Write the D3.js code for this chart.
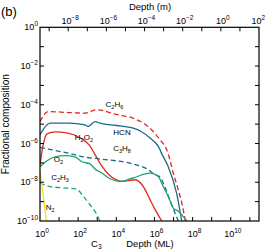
<!DOCTYPE html>
<html>
<head>
<meta charset="utf-8">
<script src="https://cdn.jsdelivr.net/npm/d3@7"></script>
<style>
  body { margin: 0; background: #fff; }
  svg { display: block; font-family: "Liberation Sans", Arial, sans-serif; }
</style>
</head>
<body>
<svg id="chart" width="266" height="250"></svg>
<script>
// values as [log10 depth (ML), log10 fractional composition]
const c2h6 = [[0,-4.87],[0.43,-4.35],[1.5,-4.4],[2.36,-4.43],[2.97,-4.26],[4.0,-4.5],[4.87,-4.69],[5.77,-5.21],[6.29,-5.81],[6.64,-6.32],[6.81,-6.84],[6.95,-7.4],[7.25,-8.39],[7.51,-9.42],[7.62,-10]];
const hcn  = [[0,-5.55],[0.52,-4.95],[1.5,-4.95],[2.36,-5.04],[2.53,-5.12],[2.88,-4.87],[3.14,-4.95],[4.0,-5.07],[4.89,-5.21],[5.3,-5.38],[5.77,-5.72],[6.2,-6.15],[6.42,-6.6],[6.72,-7.19],[7.16,-8.56],[7.43,-10]];
const h2o2 = [[0,-7.1],[0.16,-6.1],[0.37,-5.5],[0.8,-5.4],[1.4,-5.45],[2.1,-5.7],[2.6,-6.1],[2.9,-6.6],[3.2,-7.1],[3.6,-7.6],[3.95,-7.85],[4.3,-7.95],[5.0,-7.87],[5.4,-8.2],[5.77,-8.9],[6.0,-9.35],[6.38,-10]];
const c3h8 = [[0,-6.2],[0.5,-6.3],[1.5,-6.5],[2.45,-6.72],[3.14,-6.8],[4.89,-7.06],[5.6,-7.3],[6.03,-7.6],[6.29,-7.73],[6.55,-8.25],[6.81,-8.93],[7.02,-9.45],[7.25,-10]];
const o2   = [[0,-7.2],[0.37,-6.89],[0.79,-6.69],[1.31,-6.63],[1.83,-6.69],[2.2,-6.94],[2.62,-7.05],[2.94,-7.36],[3.14,-7.46],[3.67,-7.82],[4.19,-7.96],[4.87,-7.78],[5.77,-7.53],[6.2,-7.7],[6.46,-8.22],[6.72,-8.73],[6.99,-9.33],[7.25,-9.5],[7.69,-10]];
const c2h3 = [[0,-8.04],[0.52,-8.22],[1.4,-8.3],[1.92,-8.35],[2.27,-8.73],[2.62,-9.16],[2.88,-9.5],[3.14,-10]];
const n2   = [[0,-7.44],[0.34,-10]];

const series = [
  { name: "C2H6", data: c2h6, color: "#e4261e", dash: "5,3" },
  { name: "HCN",  data: hcn,  color: "#1b6b8a", dash: null },
  { name: "H2O2", data: h2o2, color: "#e4261e", dash: null },
  { name: "C3H8", data: c3h8, color: "#1b6b8a", dash: "5,3" },
  { name: "O2",   data: o2,   color: "#1aa673", dash: null },
  { name: "C2H3", data: c2h3, color: "#1aa673", dash: "5,3" },
  { name: "N2",   data: n2,   color: "#f2e21c", dash: null }
];

// labels: [text, isSubscript] pieces, position in log10 data units
const labels = [
  { parts: [["C",0],["2",1],["H",0],["6",1]], lx: 3.9, ly: -4.1 },
  { parts: [["HCN",0]], lx: 4.3, ly: -5.55 },
  { parts: [["H",0],["2",1],["O",0],["2",1]], lx: 2.3, ly: -5.8 },
  { parts: [["C",0],["3",1],["H",0],["8",1]], lx: 4.3, ly: -6.4 },
  { parts: [["O",0],["2",1]], lx: 0.97, ly: -6.95 },
  { parts: [["C",0],["2",1],["H",0],["3",1]], lx: 1.05, ly: -7.9 },
  { parts: [["N",0],["2",1]], lx: 0.53, ly: -9.45 }
];

const xTickExp = [0, 2, 4, 6, 8, 10];
const topTickExp = [-8, -6, -4, -2, 0, 2];
const yTickExp = [0, -2, -4, -6, -8, -10];
const mlPerMeterLog = 9.48; // 1 ML ~ 3.3e-10 m

const svg = d3.select("#chart");
const W = 266;
const L = 40, R = 259, T = 27.3, B = 221;

const x = d3.scaleLog().domain([1, Math.pow(10, 2 + mlPerMeterLog)]).range([L, R]);
const xTop = d3.scaleLog().domain([Math.pow(10, -mlPerMeterLog), 100]).range([L, R]);
const y = d3.scaleLog().domain([1, 1e-10]).range([T, B]);

svg.append("defs").append("clipPath").attr("id", "plot")
  .append("rect").attr("x", L).attr("y", T).attr("width", R - L).attr("height", B - T);

const line = d3.line()
  .x(d => x(Math.pow(10, d[0])))
  .y(d => y(Math.pow(10, d[1])))
  .curve(d3.curveMonotoneX);

const gLines = svg.append("g").attr("clip-path", "url(#plot)");
series.forEach(s => {
  gLines.append("path")
    .datum(s.data)
    .attr("d", line)
    .attr("fill", "none")
    .attr("stroke", s.color)
    .attr("stroke-width", 1.3)
    .attr("stroke-dasharray", s.dash);
});

// frame
svg.append("rect").attr("x", L).attr("y", T).attr("width", R - L).attr("height", B - T)
  .attr("fill", "none").attr("stroke", "#000").attr("stroke-width", 1.2);

// ticks every decade, inward
const tickLen = 4;
const ticks = svg.append("g").attr("stroke", "#000").attr("stroke-width", 1);
d3.range(0, 12).forEach(e => {
  const px = x(Math.pow(10, e));
  if (px > L && px < R) ticks.append("line").attr("x1", px).attr("x2", px).attr("y1", B).attr("y2", B - tickLen);
});
d3.range(-9, 3).forEach(e => {
  const px = xTop(Math.pow(10, e));
  if (px > L && px < R) ticks.append("line").attr("x1", px).attr("x2", px).attr("y1", T).attr("y2", T + tickLen);
});
d3.range(-9, 0).forEach(e => {
  const py = y(Math.pow(10, e));
  ticks.append("line").attr("x1", L).attr("x2", L + tickLen).attr("y1", py).attr("y2", py);
  ticks.append("line").attr("x1", R).attr("x2", R - tickLen).attr("y1", py).attr("y2", py);
});

function powLabel(g, px, py, exp, anchor) {
  const t = g.append("text").attr("x", px).attr("y", py)
    .attr("text-anchor", anchor).attr("font-size", 9).attr("fill", "#000");
  t.append("tspan").text("10");
  t.append("tspan").attr("dy", -4).attr("font-size", 6.5)
    .text(exp < 0 ? "\u2212" + (-exp) : exp);
  // keep label inside the window
  const bb = t.node().getBBox();
  if (bb.x + bb.width > W - 0.5) t.attr("x", px - (bb.x + bb.width - (W - 0.5)));
  return t;
}

const labelsG = svg.append("g");
xTickExp.forEach(e => powLabel(labelsG, x(Math.pow(10, e)) + 2, 237, e, "middle"));
topTickExp.forEach(e => powLabel(labelsG, xTop(Math.pow(10, e)) + 2, 24, e, "middle"));
yTickExp.forEach(e => powLabel(labelsG, 38, y(Math.pow(10, e)) + 3, e, "end"));

svg.append("text").attr("x", 150).attr("y", 10).attr("text-anchor", "middle")
  .attr("font-size", 9.5).text("Depth (m)");
svg.append("text").attr("x", 150).attr("y", 247).attr("text-anchor", "middle")
  .attr("font-size", 9.5).text("Depth (ML)");
const c3 = svg.append("text").attr("x", 91).attr("y", 247).attr("text-anchor", "start").attr("font-size", 9.5);
c3.append("tspan").text("C");
c3.append("tspan").attr("dy", 2).attr("font-size", 6.5).text("3");
svg.append("text").attr("transform", `translate(9,${(T + B) / 2}) rotate(-90)`)
  .attr("text-anchor", "middle").attr("font-size", 10).text("Fractional composition");
svg.append("text").attr("x", 1).attr("y", 16).attr("font-size", 13).text("(b)");

// curve labels
labels.forEach(lb => {
  const t = svg.append("text")
    .attr("x", x(Math.pow(10, lb.lx))).attr("y", y(Math.pow(10, lb.ly)))
    .attr("text-anchor", "middle").attr("font-size", 8).attr("fill", "#000");
  let sub = false;
  lb.parts.forEach(([s, isSub]) => {
    const span = t.append("tspan").text(s);
    if (isSub && !sub) { span.attr("dy", 2).attr("font-size", 5.5); sub = true; }
    else if (!isSub && sub) { span.attr("dy", -2); sub = false; }
  });
});
</script>
</body>
</html>
